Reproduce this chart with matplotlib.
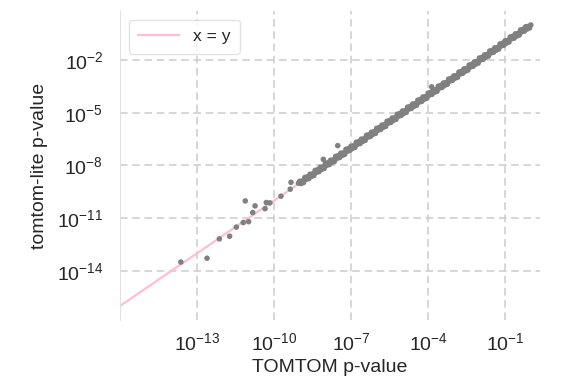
import numpy as np
import matplotlib.pyplot as plt
from matplotlib.ticker import NullLocator

plt.rcParams['font.family'] = ['Liberation Sans', 'DejaVu Sans']
plt.rcParams['mathtext.fontset'] = 'custom'
plt.rcParams['mathtext.rm'] = 'Liberation Sans'
plt.rcParams['mathtext.it'] = 'Liberation Sans'
plt.rcParams['mathtext.default'] = 'regular'

# log10 p-values: sparse low end and a few outliers
tomtom_low = [-13.63, -12.61, -12.13, -11.73, -11.47, -11.20, -10.99, -11.12, -10.83,
              -10.74, -10.35, -10.30, -10.16, -9.73, -9.37, -9.34, -9.05, -8.08, -7.52, -3.86]
lite_low = [-13.50, -13.28, -12.18, -12.03, -11.51, -11.25, -11.20, -10.02, -10.68,
            -10.30, -10.46, -10.11, -10.13, -9.75, -9.35, -8.96, -9.01, -7.65, -6.87, -3.52]

# dense band (log10)
tomtom_band = [
    -9.00, -8.95, -8.90, -8.85, -8.80, -8.75, -8.70, -8.65,
    -8.60, -8.55, -8.50, -8.45, -8.40, -8.35, -8.30, -8.25,
    -8.20, -8.15, -8.10, -8.05, -8.00, -7.95, -7.90, -7.85,
    -7.80, -7.75, -7.70, -7.65, -7.60, -7.55, -7.50, -7.45,
    -7.40, -7.35, -7.30, -7.25, -7.20, -7.15, -7.10, -7.05,
    -7.00, -6.95, -6.90, -6.85, -6.80, -6.75, -6.70, -6.65,
    -6.60, -6.55, -6.50, -6.45, -6.40, -6.35, -6.30, -6.25,
    -6.20, -6.15, -6.10, -6.05, -6.00, -5.95, -5.90, -5.85,
    -5.80, -5.75, -5.70, -5.65, -5.60, -5.55, -5.50, -5.45,
    -5.40, -5.35, -5.30, -5.25, -5.20, -5.15, -5.10, -5.05,
    -5.00, -4.95, -4.90, -4.85, -4.80, -4.75, -4.70, -4.65,
    -4.60, -4.55, -4.50, -4.45, -4.40, -4.35, -4.30, -4.25,
    -4.20, -4.15, -4.10, -4.05, -4.00, -3.95, -3.90, -3.85,
    -3.80, -3.75, -3.70, -3.65, -3.60, -3.55, -3.50, -3.45,
    -3.40, -3.35, -3.30, -3.25, -3.20, -3.15, -3.10, -3.05,
    -3.00, -2.95, -2.90, -2.85, -2.80, -2.75, -2.70, -2.65,
    -2.60, -2.55, -2.50, -2.45, -2.40, -2.35, -2.30, -2.25,
    -2.20, -2.15, -2.10, -2.05, -2.00, -1.95, -1.90, -1.85,
    -1.80, -1.75, -1.70, -1.65, -1.60, -1.55, -1.50, -1.45,
    -1.40, -1.35, -1.30, -1.25, -1.20, -1.15, -1.10, -1.05,
    -1.00, -0.95, -0.90, -0.85, -0.80, -0.75, -0.70, -0.65,
    -0.60, -0.55, -0.50, -0.45, -0.40, -0.35, -0.30, -0.25,
    -0.20, -0.15, -0.10, -0.05, 0.00]
lite_band = [
    -8.90, -9.03, -8.88, -8.97, -8.68, -8.79, -8.64, -8.75,
    -8.50, -8.63, -8.48, -8.57, -8.28, -8.39, -8.24, -8.35,
    -8.10, -8.23, -8.08, -8.17, -7.88, -7.99, -7.84, -7.95,
    -7.70, -7.83, -7.68, -7.77, -7.48, -7.59, -7.44, -7.55,
    -7.30, -7.43, -7.28, -7.37, -7.08, -7.19, -7.04, -7.15,
    -6.90, -7.03, -6.88, -6.97, -6.68, -6.79, -6.64, -6.75,
    -6.50, -6.63, -6.48, -6.57, -6.28, -6.39, -6.24, -6.35,
    -6.10, -6.23, -6.08, -6.17, -5.88, -5.99, -5.84, -5.95,
    -5.70, -5.83, -5.68, -5.77, -5.48, -5.59, -5.44, -5.55,
    -5.30, -5.43, -5.28, -5.37, -5.08, -5.19, -5.04, -5.15,
    -4.90, -5.03, -4.88, -4.97, -4.68, -4.79, -4.64, -4.75,
    -4.50, -4.63, -4.48, -4.57, -4.28, -4.39, -4.24, -4.35,
    -4.10, -4.23, -4.08, -4.17, -3.88, -3.99, -3.84, -3.95,
    -3.70, -3.83, -3.68, -3.77, -3.48, -3.59, -3.44, -3.55,
    -3.30, -3.43, -3.28, -3.37, -3.08, -3.19, -3.04, -3.15,
    -2.90, -3.03, -2.88, -2.97, -2.68, -2.79, -2.64, -2.75,
    -2.50, -2.63, -2.48, -2.57, -2.28, -2.39, -2.24, -2.35,
    -2.10, -2.23, -2.08, -2.17, -1.88, -1.99, -1.84, -1.95,
    -1.70, -1.83, -1.68, -1.77, -1.48, -1.59, -1.44, -1.55,
    -1.30, -1.43, -1.28, -1.37, -1.08, -1.19, -1.04, -1.15,
    -0.90, -1.03, -0.88, -0.97, -0.68, -0.79, -0.64, -0.75,
    -0.50, -0.63, -0.48, -0.57, -0.28, -0.39, -0.24, -0.35,
    -0.10, -0.23, -0.08, -0.17, 0.00]

line_ends = [1e-16, 1.0]

x = 10.0 ** np.array(tomtom_low + tomtom_band)
y = 10.0 ** np.array(lite_low + lite_band)

fig = plt.figure(figsize=(5.72, 3.92), dpi=100)
ax = fig.add_axes([0.2098, 0.1837, 0.7343, 0.7883])

ax.plot(line_ends, line_ends, color='pink', lw=1.6, label='x = y', zorder=2)
ax.scatter(x, y, s=16, color='gray', edgecolors='none', zorder=3)

ax.set_xscale('log')
ax.set_yscale('log')
ax.set_xlim(10 ** -16, 10 ** 0.36)
ax.set_ylim(10 ** -16.8, 10 ** 0.8)
ax.set_xticks([1e-13, 1e-10, 1e-7, 1e-4, 1e-1])
ax.set_yticks([1e-14, 1e-11, 1e-8, 1e-5, 1e-2])
ax.xaxis.set_minor_locator(NullLocator())
ax.yaxis.set_minor_locator(NullLocator())

ax.grid(True, ls='--', color='#cccccc', lw=1.1, dashes=(5, 3))
ax.set_axisbelow(True)
ax.tick_params(length=0, labelsize=14, colors='#262626')
ax.tick_params(axis='x', pad=9)
ax.tick_params(axis='y', pad=12)
for s in ['top', 'right', 'bottom']:
    ax.spines[s].set_visible(False)
ax.spines['left'].set_color('#e0e0e0')

ax.set_xlabel('TOMTOM p-value', fontsize=14, color='#262626', labelpad=3)
ax.set_ylabel('tomtom-lite p-value', fontsize=14, color='#262626', labelpad=6)

leg = ax.legend(loc='upper left', fontsize=12.5, handlelength=2.35, borderpad=0.55,
                frameon=True, fancybox=True)
leg.get_frame().set_edgecolor('#dddddd')
for t in leg.get_texts():
    t.set_color('#262626')

fig.savefig('out.png', dpi=100)
